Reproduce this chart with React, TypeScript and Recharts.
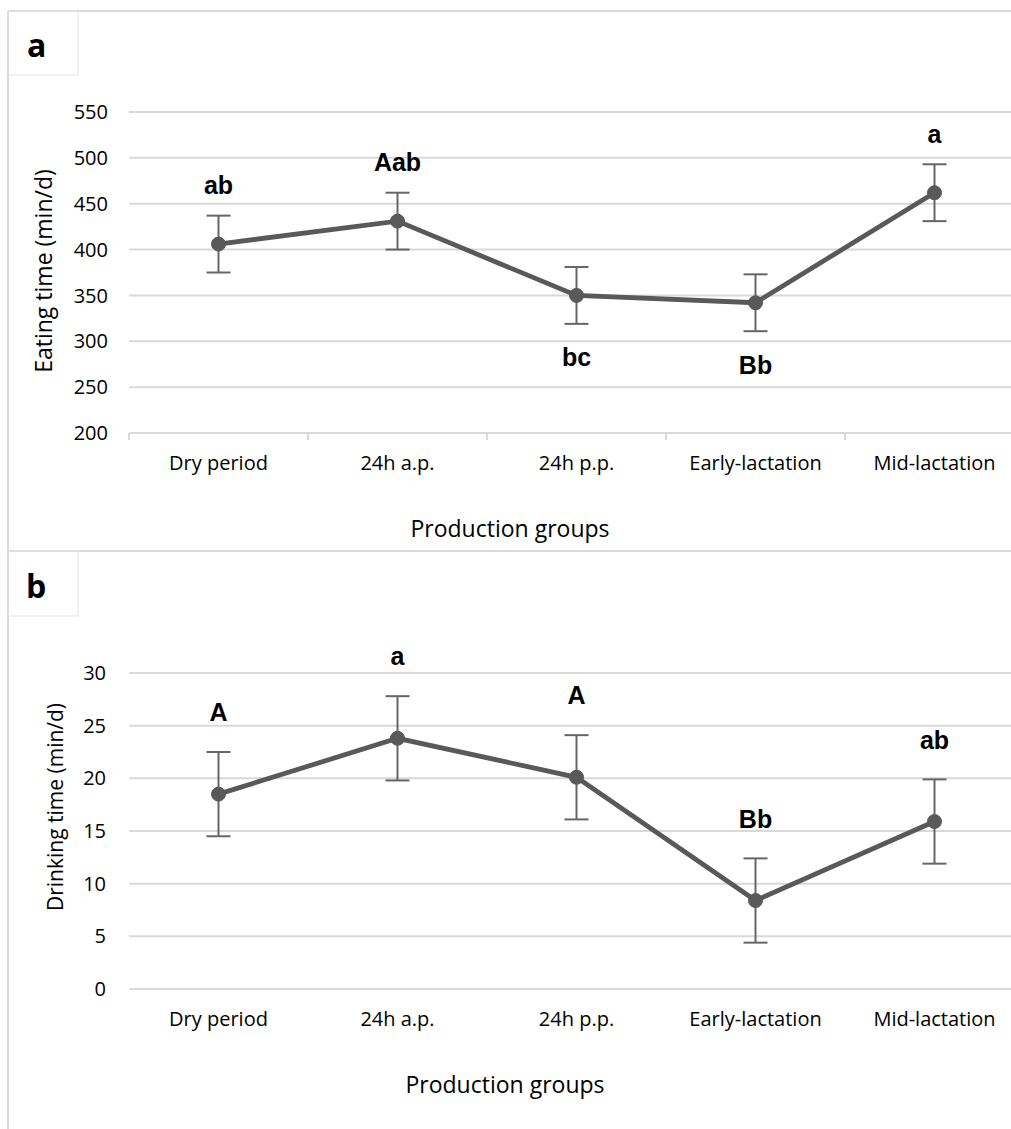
import React from 'react';
import { LineChart, Line, XAxis, YAxis, CartesianGrid, ErrorBar, LabelList } from 'recharts';

const categories = ['Dry period', '24h a.p.', '24h p.p.', 'Early-lactation', 'Mid-lactation'];

const eatingTime = [406, 431, 350, 342, 462];
const eatingSem = [31, 31, 31, 31, 31];
const eatingLetters = ['ab', 'Aab', 'bc', 'Bb', 'a'];
const eatingLetterSide = ['above', 'above', 'below', 'below', 'above'];
const eatingTicks = [200, 250, 300, 350, 400, 450, 500, 550];

const drinkingTime = [18.5, 23.8, 20.1, 8.4, 15.9];
const drinkingSem = [4, 4, 4, 4, 4];
const drinkingLetters = ['A', 'a', 'A', 'Bb', 'ab'];
const drinkingLetterSide = ['above', 'above', 'above', 'above', 'above'];
const drinkingTicks = [0, 5, 10, 15, 20, 25, 30];

const FONT = '"Open Sans", sans-serif';
const BOLD_FONT = '"Liberation Sans", Arial, sans-serif';
const GRID = '#d9d9d9';
const LINE = '#595959';

// category centres and boundaries on a numeric axis
const xTicks: number[] = [];
for (let i = 0; i <= categories.length * 2; i++) xTicks.push(i / 2);

const CHART_W = 1040;

function AxisTitle(props: any) {
  const { text, tx, ty, size, rotate } = props;
  return (
    <text
      x={tx}
      y={ty}
      textAnchor="middle"
      fontFamily={FONT}
      fontSize={size}
      fill="#000"
      transform={rotate ? `rotate(-90 ${tx} ${ty})` : undefined}
    >
      {text}
    </text>
  );
}

function makeXTick(tickMarks: boolean) {
  return (props: any) => {
    const { x, y, payload } = props;
    const v = payload.value;
    if (Number.isInteger(v)) {
      if (!tickMarks) return <g />;
      return <line x1={x} x2={x} y1={y} y2={y + 7} stroke={GRID} strokeWidth={2} />;
    }
    return (
      <text x={x} y={y + 37} textAnchor="middle" fontFamily={FONT} fontSize={20} fill="#000">
        {categories[Math.floor(v)]}
      </text>
    );
  };
}

function makeLetter(dy: number) {
  return (props: any) => {
    const { value } = props;
    if (!value) return null;
    const x = props.x ?? props.viewBox?.x;
    const y = props.y ?? props.viewBox?.y;
    return (
      <text x={x} y={y + dy} textAnchor="middle" fontFamily={BOLD_FONT} fontWeight="bold" fontSize={25} fill="#000">
        {value}
      </text>
    );
  };
}

function Panel(props: any) {
  const {
    top, height, marginTop, xAxisHeight, domain, ticks, values, sems, letters, sides,
    yTitle, yTitleX, yTitleY, yTitleSize, xTitleX, xTitleY, tickMarks, yTickMargin,
    aboveDy, belowDy,
  } = props;
  const data = categories.map((name, i) => ({
    pos: i + 0.5,
    name,
    value: values[i],
    sem: sems[i],
    above: sides[i] === 'above' ? letters[i] : '',
    below: sides[i] === 'below' ? letters[i] : '',
  }));
  return (
    <div style={{ position: 'absolute', left: 0, top, width: CHART_W, height }}>
      <LineChart width={CHART_W} height={height} data={data} margin={{ top: marginTop, right: 16, bottom: 0, left: 0 }}>
        <CartesianGrid vertical={false} stroke={GRID} strokeWidth={2} />
        <XAxis
          dataKey="pos"
          type="number"
          domain={[0, categories.length]}
          ticks={xTicks}
          interval={0}
          tickLine={false}
          tickSize={0}
          tickMargin={0}
          axisLine={{ stroke: GRID, strokeWidth: 2 }}
          height={xAxisHeight}
          tick={makeXTick(tickMarks)}
          label={<AxisTitle text="Production groups" tx={xTitleX} ty={xTitleY} size={23} />}
        />
        <YAxis
          type="number"
          domain={domain}
          ticks={ticks}
          interval={0}
          width={129}
          tickLine={false}
          axisLine={false}
          tickSize={0}
          tickMargin={yTickMargin}
          tick={{ fontSize: 20, fill: '#000', fontFamily: FONT }}
          label={<AxisTitle text={yTitle} tx={yTitleX} ty={yTitleY} size={yTitleSize} rotate />}
        />
        <Line
          dataKey="value"
          stroke={LINE}
          strokeWidth={4.8}
          dot={{ r: 7, fill: LINE, stroke: LINE, strokeWidth: 1 }}
          activeDot={false}
          isAnimationActive={false}
        >
          <ErrorBar dataKey="sem" direction="y" width={12} stroke="#666" strokeWidth={2} />
          <LabelList dataKey="above" content={makeLetter(aboveDy)} />
          <LabelList dataKey="below" content={makeLetter(belowDy)} />
        </Line>
      </LineChart>
    </div>
  );
}

export default function App() {
  return (
    <div style={{ position: 'absolute', left: 0, top: 0, width: 1011, height: 1129, overflow: 'hidden', background: '#fff' }}>
      <svg width={1011} height={1129} style={{ position: 'absolute', left: 0, top: 0 }}>
        <line x1={8} x2={1011} y1={11} y2={11} stroke={GRID} strokeWidth={2} />
        <line x1={8} x2={8} y1={11} y2={1129} stroke={GRID} strokeWidth={2} />
        <line x1={8} x2={1011} y1={551} y2={551} stroke={GRID} strokeWidth={2} />
        <rect x={8} y={11} width={70} height={64} fill="none" stroke="#e3e3e3" strokeWidth={1} />
        <rect x={8} y={551} width={70} height={65} fill="none" stroke="#e3e3e3" strokeWidth={1} />
        <text x={27} y={57} fontFamily={FONT} fontWeight="bold" fontSize={32} fill="#000">a</text>
        <text x={26} y={598} fontFamily={FONT} fontWeight="bold" fontSize={32} fill="#000">b</text>
      </svg>
      <Panel
        top={0}
        height={551}
        marginTop={112}
        xAxisHeight={118}
        domain={[200, 550]}
        ticks={eatingTicks}
        values={eatingTime}
        sems={eatingSem}
        letters={eatingLetters}
        sides={eatingLetterSide}
        yTitle="Eating time (min/d)"
        yTitleX={51.5}
        yTitleY={271}
        yTitleSize={23}
        xTitleX={510}
        xTitleY={537}
        tickMarks={true}
        yTickMargin={21}
        aboveDy={-50}
        belowDy={71}
      />
      <Panel
        top={551}
        height={578}
        marginTop={122}
        xAxisHeight={140}
        domain={[0, 30]}
        ticks={drinkingTicks}
        values={drinkingTime}
        sems={drinkingSem}
        letters={drinkingLetters}
        sides={drinkingLetterSide}
        yTitle="Drinking time (min/d)"
        yTitleX={63}
        yTitleY={256}
        yTitleSize={21}
        xTitleX={505}
        xTitleY={542}
        tickMarks={false}
        yTickMargin={23}
        aboveDy={-73}
        belowDy={71}
      />
    </div>
  );
}
